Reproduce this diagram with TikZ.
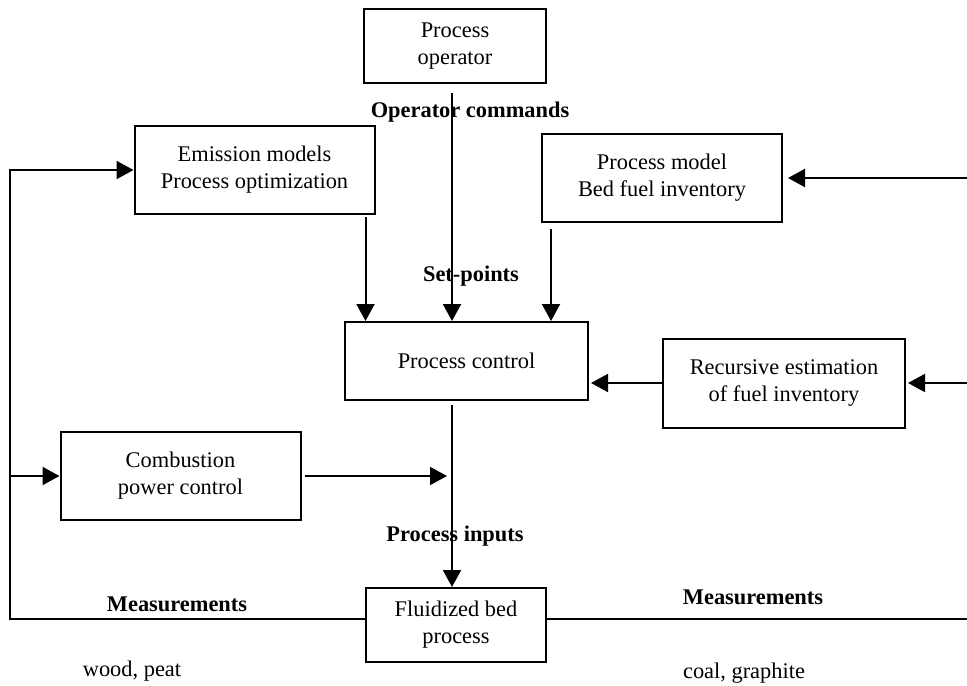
\documentclass[tikz,border=0pt]{standalone}
\usepackage{fontspec}
\setmainfont{Liberation Serif}
\usetikzlibrary{arrows.meta}

\begin{document}
\begin{tikzpicture}[
				x=0.5pt, y=-0.5pt,
				font=\fontsize{11.2pt}{13.5pt}\selectfont,
				line width=1pt,
				block/.style={
						draw,
						rectangle,
						align=center,
						inner sep=0pt,
						minimum width=#1,
					},
				block/.default=120pt,
				lbl/.style={
						font=\fontsize{11.2pt}{13.5pt}\selectfont\bfseries,
						inner sep=0pt,
					},
				arr/.style={
						-{Triangle[length=8.5pt,width=9pt]},
					},
			]
			\useasboundingbox (0,0) rectangle (967,685);

			% blocks
			\node[block=91pt, minimum height=37pt] (oper) at (455,46) {Process\\operator};
			\node[block, minimum height=44pt] (emis) at (254.5,170) {Emission models\\Process optimization};
			\node[block, minimum height=44pt] (model) at (662,178) {Process model\\Bed fuel inventory};
			\node[block=121.5pt, minimum height=39pt] (ctrl) at (466.5,361) {Process control};
			\node[block=121pt, minimum height=44.5pt] (recur) at (784,383) {Recursive estimation\\of fuel inventory};
			\node[block, minimum height=44pt] (comb) at (180.5,476) {Combustion\\power control};
			\node[block=90pt, minimum height=37pt] (fbed) at (456,625) {Fluidized bed\\process};

			% frame points
			\coordinate (lft) at (10,0);
			\coordinate (rgt) at (967,0);
			\coordinate (min) at (967,178);
			\coordinate (rin) at (967,383);
			\coordinate (cpin) at ([xshift=-7.25pt]ctrl.south);

			% labels
			\node[lbl] (opcmd) at (470,112) {Operator commands};
			\node[lbl] (setp) at (471,276) {Set-points};
			\node[lbl] (pinp) at (455,536) {Process inputs};
			\node[lbl] (measl) at (177,604) {Measurements};
			\node[lbl] (measr) at (753,597) {Measurements};
			\node[inner sep=0pt] (fuell) at (132,671) {wood, peat};
			\node[inner sep=0pt] (fuelr) at (744,673) {coal, graphite};

			% set-points into control
			\draw[arr, shorten <=1pt] ([xshift=-5pt]emis.south east) -- ([xshift=-5pt]emis.south east |- ctrl.north);
			\draw[arr, shorten <=4.5pt] ([xshift=-1.5pt]oper.south) -- ([xshift=-1.5pt]oper.south |- ctrl.north);
			\draw[arr, shorten <=3pt] ([xshift=5pt]model.south west) -- ([xshift=5pt]model.south west |- ctrl.north);

			% estimates
			\draw[arr, shorten >=2.5pt] (min) -- (model.east);
			\draw[arr, shorten >=1pt] (rin) -- (recur.east);
			\draw[arr, shorten >=1pt] (recur.west) -- (recur.west -| ctrl.east);

			% process inputs
			\draw[arr, shorten <=2pt] (cpin) -- (cpin |- fbed.north);
			\draw[arr, shorten <=1.5pt] (comb.east) -- ([xshift=-2.5pt]comb.east -| cpin);

			% measurements
			\draw[arr] ([yshift=3pt]fbed.west) -- ([yshift=3pt]fbed.west -| lft) -- (lft |- emis.west) -- (emis.west);
			\draw[arr] (lft |- comb.west) -- (comb.west);
			\draw ([yshift=3pt]fbed.east) -- ([yshift=3pt]fbed.east -| rgt);
		\end{tikzpicture}
\end{document}
